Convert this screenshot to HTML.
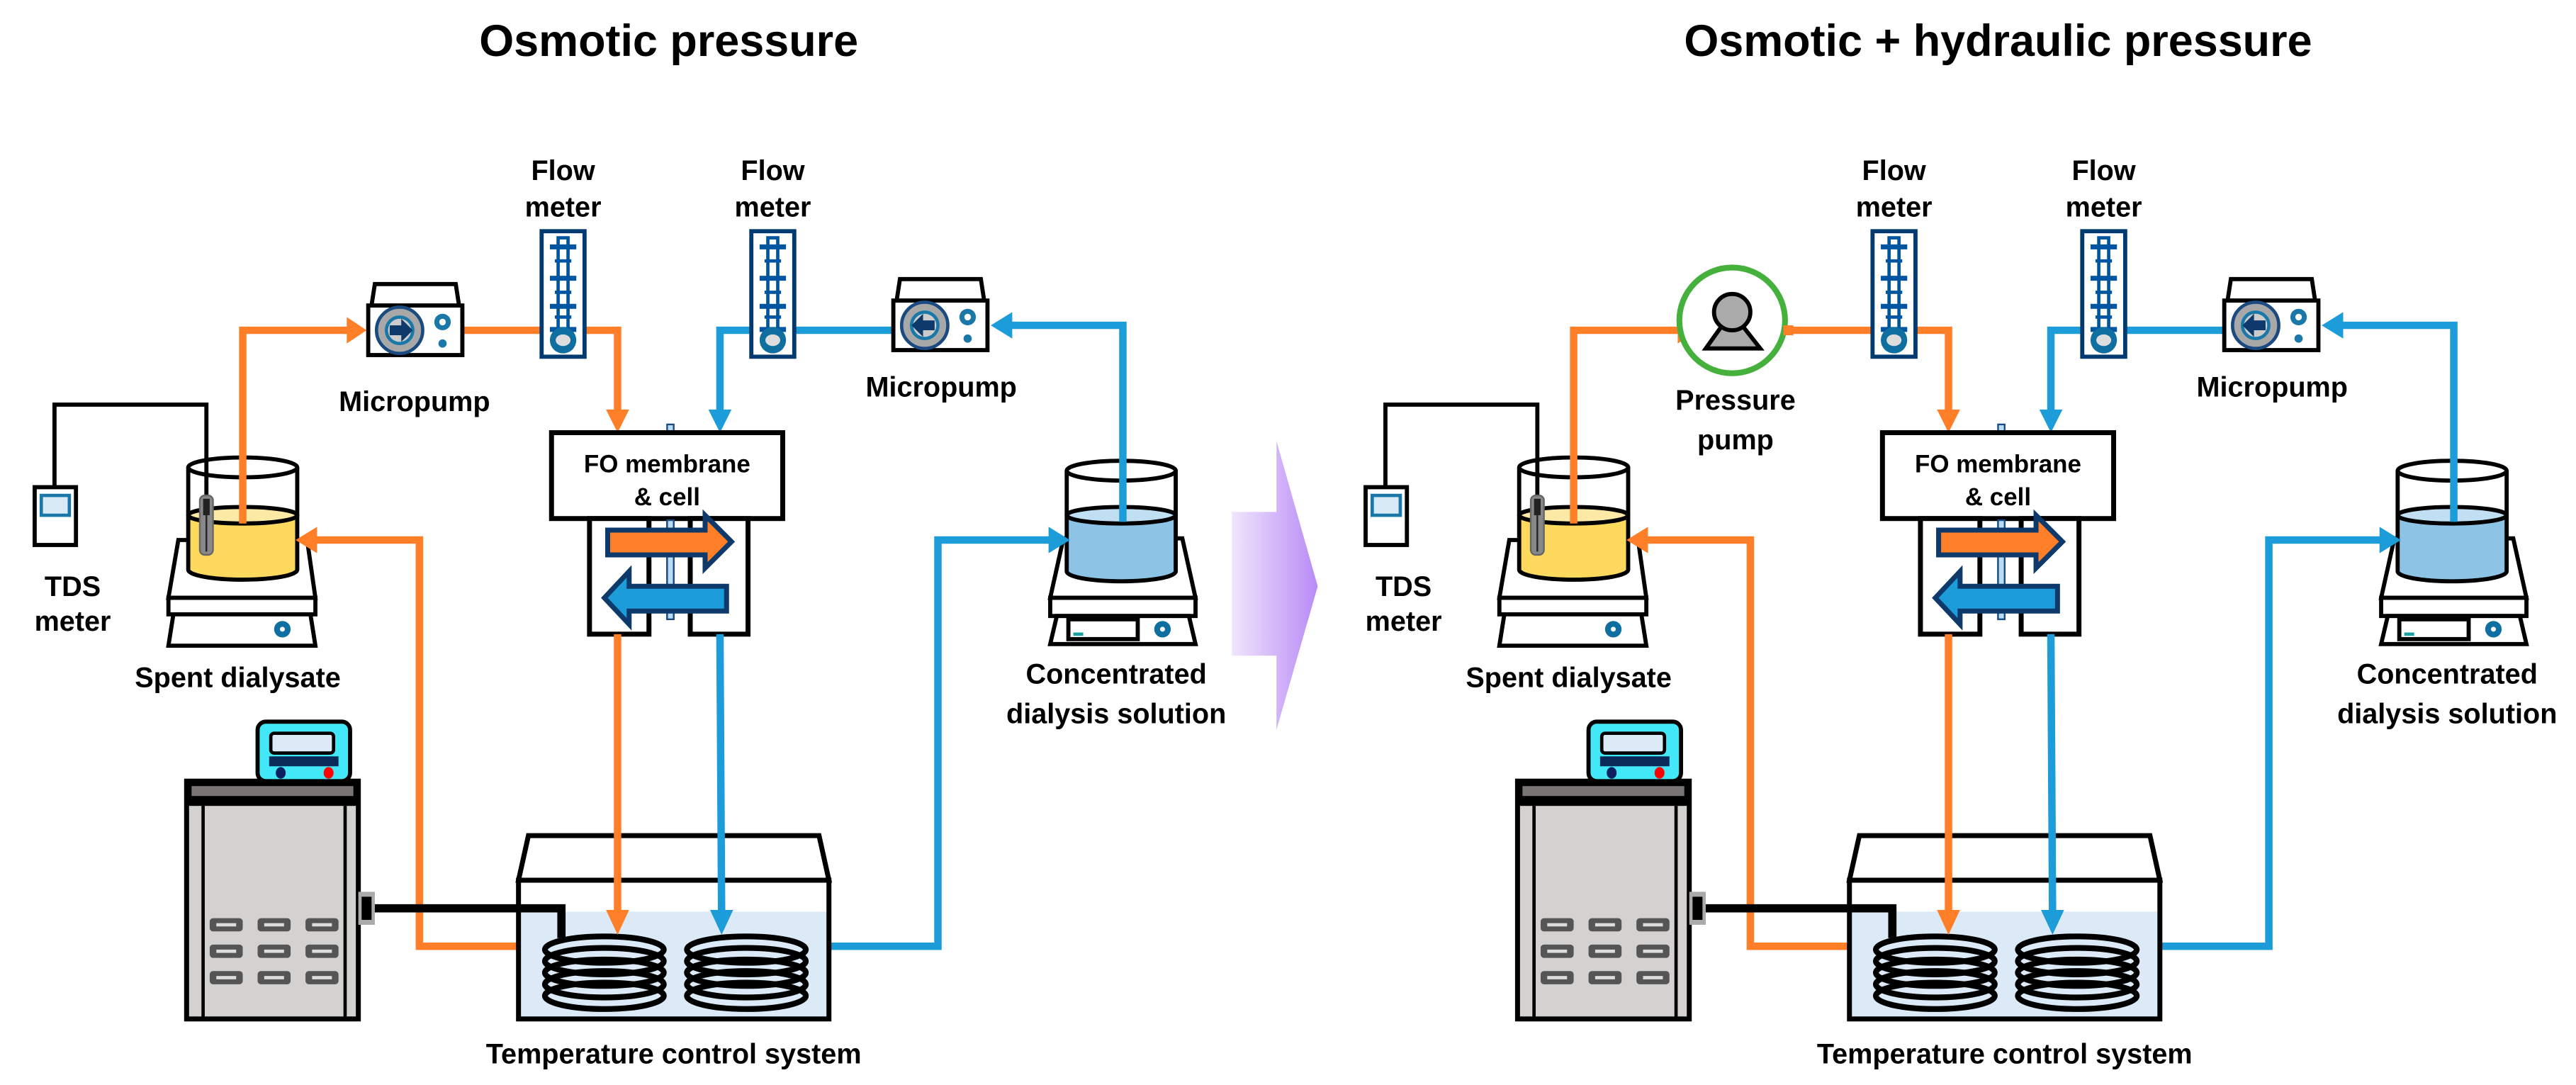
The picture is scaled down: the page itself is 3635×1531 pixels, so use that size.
<!DOCTYPE html>
<html><head><meta charset="utf-8"><style>
html,body{margin:0;padding:0;background:#fff;}
svg{display:block;}
text{font-family:"Liberation Sans",Arial,sans-serif;font-weight:bold;fill:#000;text-anchor:middle;}
</style></head><body>
<svg width="3635" height="1531" viewBox="0 0 1560 657" preserveAspectRatio="none" xmlns="http://www.w3.org/2000/svg">
<defs>
<linearGradient id="ga" x1="0" x2="1" y1="0" y2="0">
<stop offset="0" stop-color="#efe6fc"/><stop offset="1" stop-color="#b98af7"/>
</linearGradient>
<g id="fm">
<rect x="0" y="0" width="26" height="76" fill="#fff" stroke="#003a70" stroke-width="2.5"/>
<rect x="10" y="4" width="6" height="62" fill="#fff" stroke="#0055a0" stroke-width="2"/>
<rect x="5" y="8" width="16" height="3" fill="#0055a0"/>
<rect x="5" y="27" width="16" height="3" fill="#0055a0"/>
<rect x="5" y="44" width="16" height="3" fill="#0055a0"/>
<rect x="5" y="58" width="16" height="3" fill="#0055a0"/>
<rect x="8" y="17" width="10" height="2" fill="#0055a0"/>
<rect x="8" y="36" width="10" height="2" fill="#0055a0"/>
<rect x="8" y="51" width="10" height="2" fill="#0055a0"/>
<circle cx="13" cy="66" r="8" fill="#0e6fa0"/>
<ellipse cx="13" cy="66" rx="4.5" ry="3.5" fill="#ddd"/>
</g>
<g id="pumpbody">
<polygon points="2,13 4,0 53,0 55,13" fill="#fff" stroke="#000" stroke-width="2.5"/>
<rect x="0" y="13" width="57" height="30" fill="#fff" stroke="#000" stroke-width="2.5"/>
<circle cx="19" cy="28" r="14" fill="#a8a8a8" stroke="#1a4a80" stroke-width="2"/>
<circle cx="19" cy="28" r="8" fill="#ccc" stroke="#1a78a8" stroke-width="2"/>
<circle cx="45" cy="23" r="5" fill="#1a78a8"/>
<circle cx="45" cy="23" r="2" fill="#fff"/>
<circle cx="45" cy="36" r="2.5" fill="#1a78a8"/>
</g>
<g id="panel">
<polygon points="108,327 186,327 191,362 102,362" fill="#fff" stroke="#000" stroke-width="2.5"/>
<rect x="102" y="362" width="89" height="10" fill="#fff" stroke="#000" stroke-width="2.5"/>
<polygon points="105,372 188,372 191,391 102,391" fill="#fff" stroke="#000" stroke-width="2.5"/>
<circle cx="171" cy="381" r="5" fill="#0e6fa0"/><circle cx="171" cy="381" r="1.5" fill="#fff"/>
<path d="M114 312 V345 A33 6 0 0 0 180 345 V312 Z" fill="#fdd95e"/>
<ellipse cx="147" cy="312" rx="33" ry="5" fill="#fde9a6" stroke="#000" stroke-width="2.5"/>
<path d="M114 283 V345 A33 6 0 0 0 180 345 V283" fill="none" stroke="#000" stroke-width="2.5"/>
<ellipse cx="147" cy="283" rx="33" ry="6" fill="none" stroke="#000" stroke-width="2.5"/>
<polygon points="644,326 716,326 724,362 636,362" fill="#fff" stroke="#000" stroke-width="2.5"/>
<rect x="636" y="362" width="88" height="11" fill="#fff" stroke="#000" stroke-width="2.5"/>
<polygon points="640,373 720,373 724,390 636,390" fill="#fff" stroke="#000" stroke-width="2.5"/>
<rect x="647" y="375" width="42" height="12" fill="#fff" stroke="#000" stroke-width="2.5"/>
<rect x="650" y="383" width="6" height="2" fill="#1aa0a0"/>
<circle cx="704" cy="381" r="5" fill="#0e6fa0"/><circle cx="704" cy="381" r="1.5" fill="#fff"/>
<path d="M646 312 V346 A33 6 0 0 0 712 346 V312 Z" fill="#8dc3e5"/>
<ellipse cx="679" cy="312" rx="33" ry="5" fill="#c0dff2" stroke="#000" stroke-width="2.5"/>
<path d="M646 285 V346 A33 6 0 0 0 712 346 V285" fill="none" stroke="#000" stroke-width="2.5"/>
<ellipse cx="679" cy="285" rx="33" ry="6" fill="none" stroke="#000" stroke-width="2.5"/>
<path d="M125 300 V245 H33 V295" fill="none" stroke="#000" stroke-width="2.5"/>
<rect x="21" y="295" width="25" height="35" fill="#fff" stroke="#000" stroke-width="2.5"/>
<rect x="25" y="300" width="17" height="12" fill="#d8eaf6" stroke="#1a78a8" stroke-width="2"/>
<g fill="none" stroke="#fe7f27" stroke-width="4.5">
<path d="M147 317 V200 H211"/>
<path d="M276 200 H374 V250"/>
<path d="M190 327 H254 V573 H330"/>
</g>
<g fill="#fe7f27">
<polygon points="222,200 210,192 210,208"/>
<polygon points="374,262 367,248 381,248"/>
<polygon points="179,327 192,319 192,335"/>
</g>
<g fill="none" stroke="#1c9cd8" stroke-width="4.5">
<path d="M680 316 V197 H611"/>
<path d="M545 200 H436 V250"/>
<path d="M488 573 H568 V327 H637"/>
</g>
<g fill="#1c9cd8">
<polygon points="600,197 613,189 613,205"/>
<polygon points="436,262 429,248 443,248"/>
<polygon points="648,327 635,319 635,335"/>
</g>
<rect x="121" y="300" width="8" height="36" rx="3" fill="#888" stroke="#666" stroke-width="1"/>
<rect x="123" y="302" width="4" height="10" fill="#222"/>
<line x1="125" y1="312" x2="125" y2="334" stroke="#222" stroke-width="1"/>
<use href="#fm" x="328" y="140"/>
<use href="#fm" x="455" y="140"/>
<g transform="translate(541,169)">
<use href="#pumpbody"/>
<polygon points="11,28 18,21 18,25 25,25 25,31 18,31 18,35" fill="#0d3a6a"/>
</g>
<rect x="404" y="257" width="4" height="118" fill="#b8dcf2" stroke="#1a4a80" stroke-width="1"/>
<rect x="334" y="262" width="140" height="52" fill="#fff" stroke="#000" stroke-width="3"/>
<rect x="357" y="314" width="36" height="70" fill="#fff" stroke="#000" stroke-width="3"/>
<rect x="418" y="314" width="35" height="70" fill="#fff" stroke="#000" stroke-width="3"/>
<rect x="404" y="315" width="4" height="60" fill="#b8dcf2" stroke="#1a4a80" stroke-width="1"/>
<polygon points="368,321 427,321 427,312 443,328 427,344 427,336 368,336" fill="#fe7f27" stroke="#0d3a6a" stroke-width="3"/>
<polygon points="440,355 381,355 381,346 366,362 381,378 381,370 440,370" fill="#1c9cd8" stroke="#0d3a6a" stroke-width="3"/>
<rect x="113" y="473" width="104" height="144" fill="#d4d2d0" stroke="#000" stroke-width="3"/>
<rect x="113" y="473" width="104" height="15" fill="#000"/>
<rect x="116" y="476" width="98" height="6" fill="#7a7474"/>
<line x1="123" y1="488" x2="123" y2="616" stroke="#000" stroke-width="2"/>
<line x1="209" y1="488" x2="209" y2="616" stroke="#000" stroke-width="2"/>
<g fill="#555">
<rect x="127" y="556" width="20" height="8" rx="2"/><rect x="156" y="556" width="20" height="8" rx="2"/><rect x="185" y="556" width="20" height="8" rx="2"/>
<rect x="127" y="572" width="20" height="8" rx="2"/><rect x="156" y="572" width="20" height="8" rx="2"/><rect x="185" y="572" width="20" height="8" rx="2"/>
<rect x="127" y="588" width="20" height="8" rx="2"/><rect x="156" y="588" width="20" height="8" rx="2"/><rect x="185" y="588" width="20" height="8" rx="2"/>
</g>
<g fill="#ddd">
<rect x="131" y="559" width="12" height="2"/><rect x="160" y="559" width="12" height="2"/><rect x="189" y="559" width="12" height="2"/>
<rect x="131" y="575" width="12" height="2"/><rect x="160" y="575" width="12" height="2"/><rect x="189" y="575" width="12" height="2"/>
<rect x="131" y="591" width="12" height="2"/><rect x="160" y="591" width="12" height="2"/><rect x="189" y="591" width="12" height="2"/>
</g>
<rect x="156" y="437" width="56" height="36" rx="5" fill="#42e8f8" stroke="#000" stroke-width="2.5"/>
<rect x="164" y="444" width="38" height="12" rx="2" fill="#dbeaf6" stroke="#000" stroke-width="2"/>
<rect x="163" y="458" width="42" height="6" fill="#0a2a5a"/>
<ellipse cx="170" cy="468" rx="3" ry="3.5" fill="#0a2060"/>
<ellipse cx="199" cy="468" rx="3" ry="3.5" fill="#f00"/>
<rect x="217" y="540" width="10" height="20" fill="#aaa"/>
<rect x="219" y="543" width="6" height="14" fill="#000"/>
<polygon points="320,506 496,506 502,533 314,533" fill="#fff" stroke="#000" stroke-width="3"/>
<rect x="314" y="552" width="188" height="65" fill="#dbeaf6"/>
<rect x="314" y="533" width="188" height="84" fill="none" stroke="#000" stroke-width="3"/>
<path d="M227 550 H340 V568" fill="none" stroke="#000" stroke-width="5"/>
<g fill="none" stroke="#000" stroke-width="3.5">
<ellipse cx="366" cy="575" rx="36" ry="8"/><ellipse cx="366" cy="582" rx="36" ry="8"/><ellipse cx="366" cy="589" rx="36" ry="8"/><ellipse cx="366" cy="596" rx="36" ry="8"/><ellipse cx="366" cy="603" rx="36" ry="8"/>
<ellipse cx="452" cy="575" rx="36" ry="8"/><ellipse cx="452" cy="582" rx="36" ry="8"/><ellipse cx="452" cy="589" rx="36" ry="8"/><ellipse cx="452" cy="596" rx="36" ry="8"/><ellipse cx="452" cy="603" rx="36" ry="8"/>
</g>
<path d="M374 384 V553" fill="none" stroke="#fe7f27" stroke-width="4.5"/>
<polygon points="374,566 367,551 381,551" fill="#fe7f27"/>
<path d="M436 384 L437 553" fill="none" stroke="#1c9cd8" stroke-width="4.5"/>
<polygon points="437,566 430,551 444,551" fill="#1c9cd8"/>
</g>
</defs>

<use href="#panel"/>
<use href="#panel" x="806"/>

<g transform="translate(223,172)">
<use href="#pumpbody"/>
<polygon points="27,28 20,21 20,25 13,25 13,31 20,31 20,35" fill="#0d3a6a"/>
</g>
<circle cx="1049" cy="194" r="32" fill="#fff" stroke="#45b03c" stroke-width="3.5"/>
<polygon points="1043,197 1055,197 1066,211 1033,211" fill="#aaa" stroke="#000" stroke-width="2.5"/>
<circle cx="1049" cy="189" r="11" fill="#aaa" stroke="#000" stroke-width="2.5"/>
<rect x="1080" y="197" width="6" height="6" fill="#fe7f27"/>

<polygon points="746,310 773,310 773,267 798,355 773,442 773,397 746,397" fill="url(#ga)"/>

<text x="405" y="34" font-size="27">Osmotic pressure</text>
<text x="1210" y="34" font-size="27">Osmotic + hydraulic pressure</text>

<g font-size="17">
<text x="341" y="109">Flow</text><text x="341" y="131">meter</text>
<text x="468" y="109">Flow</text><text x="468" y="131">meter</text>
<text x="251" y="249">Micropump</text>
<text x="570" y="240">Micropump</text>
<text x="44" y="361">TDS</text><text x="44" y="382">meter</text>
<text x="144" y="416">Spent dialysate</text>
<text x="676" y="414">Concentrated</text><text x="676" y="438">dialysis solution</text>
<text x="408" y="644">Temperature control system</text>
<text x="1147" y="109">Flow</text><text x="1147" y="131">meter</text>
<text x="1274" y="109">Flow</text><text x="1274" y="131">meter</text>
<text x="1051" y="248">Pressure</text><text x="1051" y="272">pump</text>
<text x="1376" y="240">Micropump</text>
<text x="850" y="361">TDS</text><text x="850" y="382">meter</text>
<text x="950" y="416">Spent dialysate</text>
<text x="1482" y="414">Concentrated</text><text x="1482" y="438">dialysis solution</text>
<text x="1214" y="644">Temperature control system</text>
</g>
<g font-size="15">
<text x="404" y="286">FO membrane</text><text x="404" y="306">&amp; cell</text>
<text x="1210" y="286">FO membrane</text><text x="1210" y="306">&amp; cell</text>
</g>
</svg>
</body></html>
